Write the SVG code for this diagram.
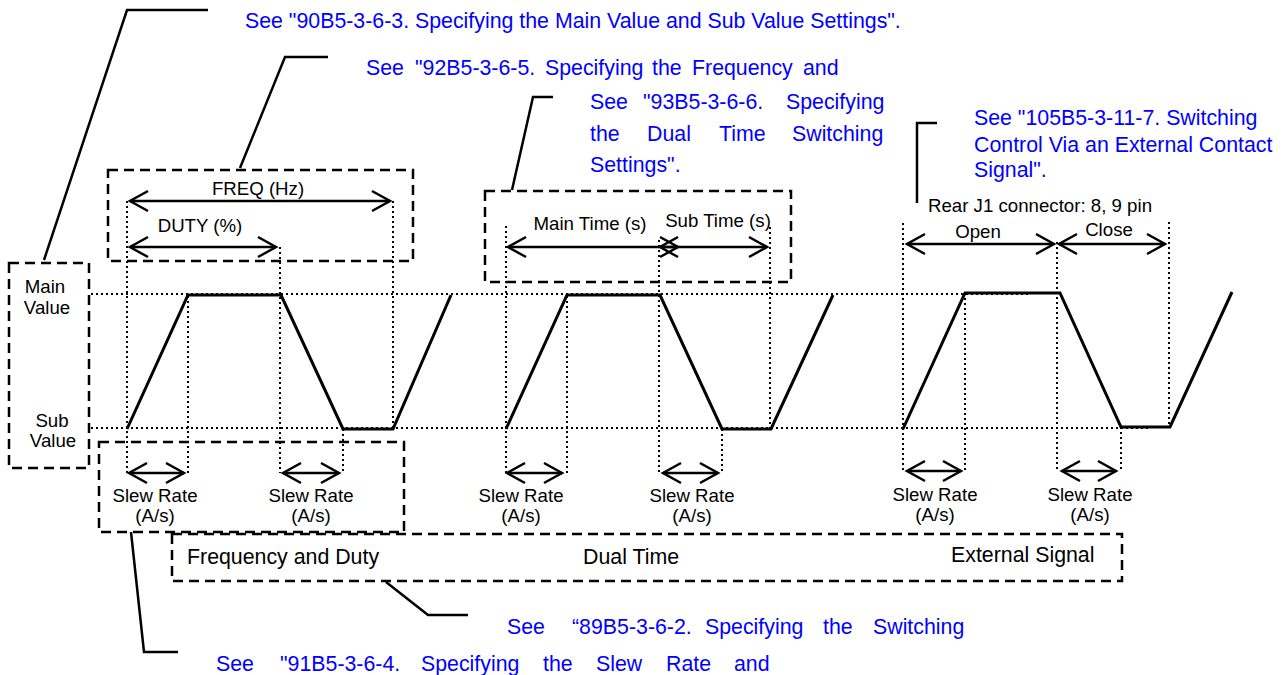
<svg xmlns="http://www.w3.org/2000/svg" width="1284" height="675" viewBox="0 0 1284 675">
<style>
text{font-family:"Liberation Sans",Arial,sans-serif;fill:#000}
.s{font-size:18.67px}
.b{font-size:21.33px}
.blue{font-size:21.33px;fill:#0000ff}
.m{text-anchor:middle}
.dash{fill:none;stroke:#000;stroke-width:2.5;stroke-dasharray:10 6}
.dot{fill:none;stroke:#000;stroke-width:2;stroke-dasharray:2 3}
.wave{fill:none;stroke:#000;stroke-width:3;stroke-linejoin:miter}
.lead{fill:none;stroke:#000;stroke-width:2.5}
.arr{fill:none;stroke:#000;stroke-width:2.5;marker-start:url(#ah);marker-end:url(#ah)}
</style>
<defs>
<marker id="ah" markerUnits="userSpaceOnUse" markerWidth="26" markerHeight="26" viewBox="-22 -13 26 26" refX="0" refY="0" orient="auto-start-reverse">
<path d="M-18,-10 L0,0 L-18,10" fill="none" stroke="#000" stroke-width="2.5"/>
</marker>
</defs>

<g id="guides">
<line class="dot" x1="91" y1="294" x2="1030" y2="294"/>
<line class="dot" x1="91" y1="428" x2="1148" y2="428"/>
<line class="dot" x1="127" y1="201" x2="127" y2="473"/>
<line class="dot" x1="188" y1="296" x2="188" y2="473"/>
<line class="dot" x1="280" y1="247" x2="280" y2="473"/>
<line class="dot" x1="343" y1="429" x2="343" y2="473"/>
<line class="dot" x1="393" y1="201" x2="393" y2="429"/>
<line class="dot" x1="506" y1="226" x2="506" y2="473"/>
<line class="dot" x1="567" y1="296" x2="567" y2="473"/>
<line class="dot" x1="659" y1="240" x2="659" y2="473"/>
<line class="dot" x1="722" y1="429" x2="722" y2="473"/>
<line class="dot" x1="770" y1="227" x2="770" y2="429"/>
<line class="dot" x1="903" y1="223" x2="903" y2="470"/>
<line class="dot" x1="965" y1="293" x2="965" y2="470"/>
<line class="dot" x1="1057" y1="242" x2="1057" y2="470"/>
<line class="dot" x1="1121" y1="427" x2="1121" y2="470"/>
<line class="dot" x1="1169" y1="222" x2="1169" y2="427"/>
</g>

<g id="waveforms">
<polyline class="wave" points="127,429 188,295 281,295 343,429 393,429 451,295"/>
<polyline class="wave" points="506,429 567,295 660,295 722,429 771,429 833,295"/>
<polyline class="wave" points="903,429 965,293 1060,293 1121,427 1170,427 1232,292"/>
</g>

<g id="connectors">
<polyline class="lead" points="44,260 127,10 208,10"/>
<polyline class="lead" points="240,168 285,57 328,57"/>
<polyline class="lead" points="512,190 533,97 553,97"/>
<polyline class="lead" points="917,203 917,123 937,123"/>
<polyline class="lead" points="131,532 144,652 178,652"/>
<polyline class="lead" points="386,582 428,615 468,615"/>
<line class="arr" x1="130" y1="201" x2="390" y2="201"/>
<line class="arr" x1="130" y1="247" x2="276" y2="247"/>
<line class="arr" x1="508" y1="247" x2="678" y2="247"/>
<line class="arr" x1="660" y1="247" x2="767" y2="247"/>
<line class="arr" x1="907" y1="244" x2="1054" y2="244"/>
<line class="arr" x1="1059" y1="244" x2="1165" y2="244"/>
<line class="arr" x1="129" y1="473" x2="184" y2="473"/>
<line class="arr" x1="283" y1="473" x2="339" y2="473"/>
<line class="arr" x1="507" y1="473" x2="562" y2="473"/>
<line class="arr" x1="663" y1="473" x2="718" y2="473"/>
<line class="arr" x1="907" y1="471" x2="961" y2="471"/>
<line class="arr" x1="1062" y1="471" x2="1116" y2="471"/>
</g>

<g id="value-box">
<rect class="dash" x="9" y="263" width="80" height="205"/>
<text class="s m" x="45" y="293">Main</text>
<text class="s m" x="47" y="314">Value</text>
<text class="s m" x="52" y="427">Sub</text>
<text class="s m" x="53" y="447">Value</text>
</g>

<g id="freq-box">
<rect class="dash" x="108" y="170" width="305" height="91"/>
<text class="s m" x="258" y="195">FREQ (Hz)</text>
<text class="s m" x="200" y="232">DUTY (%)</text>
</g>

<g id="dual-box">
<rect class="dash" x="485" y="191" width="306" height="91"/>
<text class="s m" x="590" y="230">Main Time (s)</text>
<text class="s m" x="718" y="227">Sub Time (s)</text>
</g>

<g id="external-labels">
<text class="s" x="928" y="212">Rear J1 connector: 8, 9 pin</text>
<text class="s m" x="978" y="238">Open</text>
<text class="s m" x="1109" y="236">Close</text>
</g>

<g id="slew-box">
<rect class="dash" x="99" y="442" width="305" height="90"/>
</g>

<g id="slew-labels">
<text class="s m" x="155" y="502">Slew Rate</text>
<text class="s m" x="155" y="522">(A/s)</text>
<text class="s m" x="311" y="502">Slew Rate</text>
<text class="s m" x="311" y="522">(A/s)</text>
<text class="s m" x="521" y="502">Slew Rate</text>
<text class="s m" x="521" y="522">(A/s)</text>
<text class="s m" x="692" y="502">Slew Rate</text>
<text class="s m" x="692" y="522">(A/s)</text>
<text class="s m" x="935" y="501">Slew Rate</text>
<text class="s m" x="935" y="521">(A/s)</text>
<text class="s m" x="1090" y="501">Slew Rate</text>
<text class="s m" x="1090" y="521">(A/s)</text>
</g>

<g id="mode-box">
<rect class="dash" x="172" y="534" width="950" height="47"/>
<text class="b" x="187" y="564">Frequency and Duty</text>
<text class="b" x="583" y="564">Dual Time</text>
<text class="b" x="951" y="562">External Signal</text>
</g>

<g id="ref-90">
<text class="blue" x="245" y="28">See "90B5-3-6-3. Specifying the Main Value and Sub Value Settings".</text>
</g>
<g id="ref-92">
<text class="blue" y="75"><tspan x="366">See</tspan><tspan x="415">"92B5-3-6-5.</tspan><tspan x="545">Specifying</tspan><tspan x="652">the</tspan><tspan x="692">Frequency</tspan><tspan x="803">and</tspan></text>
</g>
<g id="ref-93">
<text class="blue" y="109"><tspan x="590">See</tspan><tspan x="643">"93B5-3-6-6.</tspan><tspan x="786">Specifying</tspan></text>
<text class="blue" y="141"><tspan x="590">the</tspan><tspan x="647">Dual</tspan><tspan x="719">Time</tspan><tspan x="792">Switching</tspan></text>
<text class="blue" x="590" y="172">Settings".</text>
</g>
<g id="ref-105">
<text class="blue" x="974" y="125">See "105B5-3-11-7. Switching</text>
<text class="blue" x="974" y="152">Control Via an External Contact</text>
<text class="blue" x="974" y="177">Signal".</text>
</g>
<g id="ref-89">
<text class="blue" y="634"><tspan x="507">See</tspan><tspan x="572">“89B5-3-6-2.</tspan><tspan x="705">Specifying</tspan><tspan x="823">the</tspan><tspan x="873">Switching</tspan></text>
</g>
<g id="ref-91">
<text class="blue" y="671"><tspan x="216">See</tspan><tspan x="280">"91B5-3-6-4.</tspan><tspan x="421">Specifying</tspan><tspan x="543">the</tspan><tspan x="596">Slew</tspan><tspan x="666">Rate</tspan><tspan x="734">and</tspan></text>
</g>
</svg>
